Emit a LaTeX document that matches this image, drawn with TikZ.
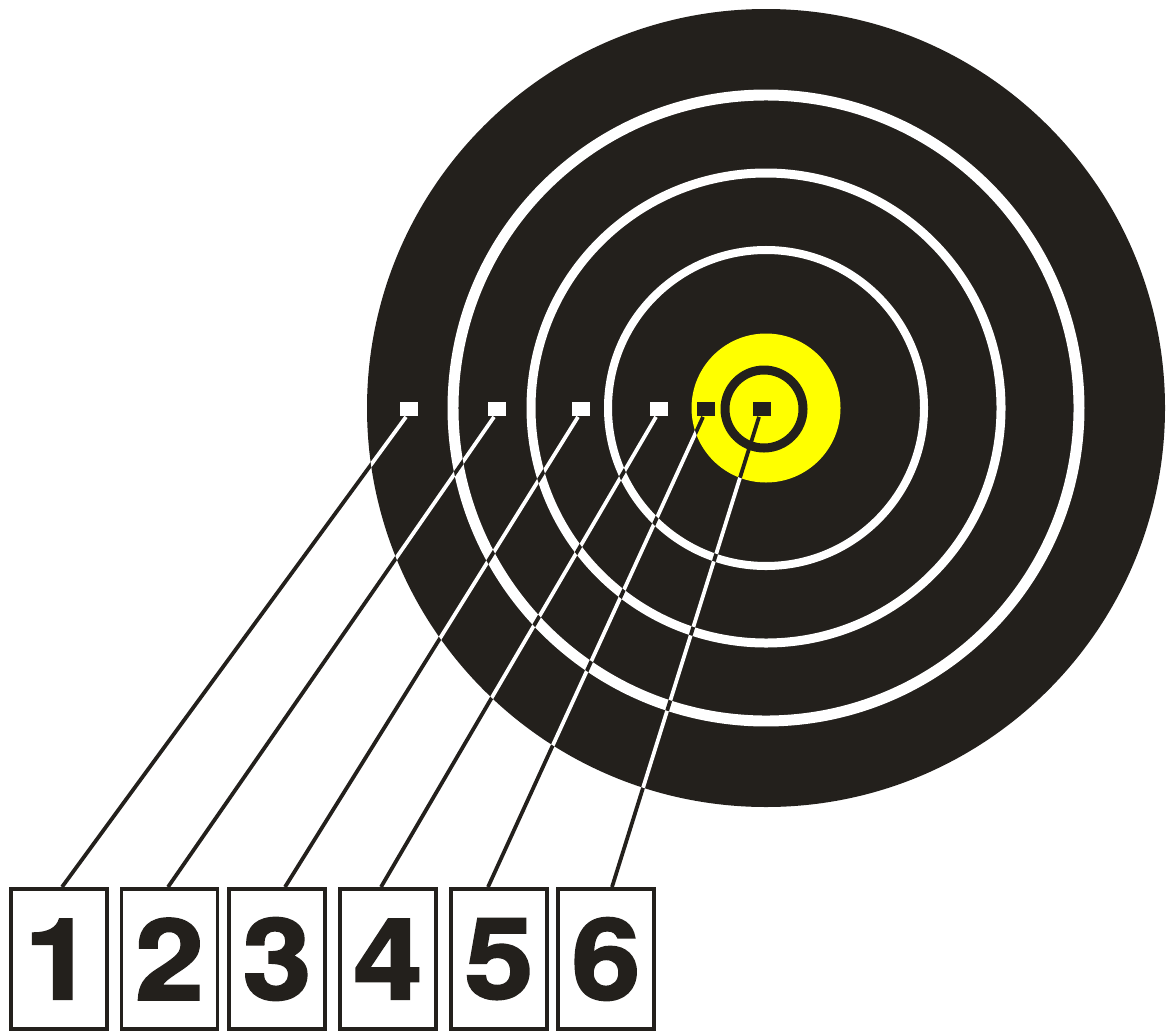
\documentclass[tikz,border=0pt]{standalone}
\usepackage{fontspec}
\newfontfamily\digitfont[FakeStretch=1.1,FakeBold=2]{TeX Gyre Heros}
\usetikzlibrary{calc,positioning}
\definecolor{targetblack}{RGB}{35,32,28}
\definecolor{goldyellow}{RGB}{255,255,0}
\tikzset{
  numbox/.style={draw=targetblack, line width=2.8pt, fill=white,
    minimum width=2.4cm, minimum height=3.5cm, inner sep=0pt,
    text=targetblack, font=\digitfont\bfseries\fontsize{80}{80}\selectfont},
  hitmark/.style={rectangle, inner sep=0pt, minimum width=0.45cm, minimum height=0.33cm},
  lead/.style={line width=2.7pt, draw=targetblack},
  whitelead/.style={line width=2.7pt, draw=white},
}
\begin{document}
\begin{tikzpicture}[x=0.025cm, y=-0.025cm]
    \useasboundingbox (0,0) rectangle (1168,1032);

    % Target face
    \coordinate (centre) at (766,408);
    \fill[targetblack] (centre) circle (399);
    \draw[white, line width=7.8pt] (centre) circle (313);
    \draw[white, line width=6.4pt] (centre) circle (235);
    \draw[white, line width=5.7pt] (centre) circle (158);
    \fill[goldyellow] (centre) circle (74.5);
    \draw[targetblack, line width=6.4pt] (764,409) circle (39);

    % Hit markers
    \foreach \i/\mx/\col in {1/409/white, 2/497/white, 3/581/white, 4/659/white, 5/706/targetblack, 6/762/targetblack}
        \node[hitmark, fill=\col] (m\i) at (\mx,409) {};

    % Number boxes
    \foreach \i/\bx in {1/59, 2/169.5, 3/277, 4/388, 5/499, 6/606}
        \node[numbox] (b\i) at (\bx,959) {\i};

    % End points of the leads
    \foreach \i/\off in {1/3, 2/-1.5, 3/8, 4/-7, 5/-11, 6/6} {
        \coordinate (s\i) at ($(m\i.south)+(-3,1)$);
        \coordinate (e\i) at ($(b\i.north)+(\off,0)$);
    }

    % Leads, black outside the black rings
    \foreach \i in {1,...,6}
        \draw[lead] (s\i) -- (e\i);

    % Leads, white on the black rings
    \begin{scope}[even odd rule]
        \clip (centre) circle (399) (centre) circle (318.5)
            (centre) circle (307.5) (centre) circle (239.5)
            (centre) circle (230.5) (centre) circle (162)
            (centre) circle (154) (centre) circle (74.5);
        \foreach \i in {1,...,6}
            \draw[whitelead] (s\i) -- (e\i);
    \end{scope}

\end{tikzpicture}
\end{document}
